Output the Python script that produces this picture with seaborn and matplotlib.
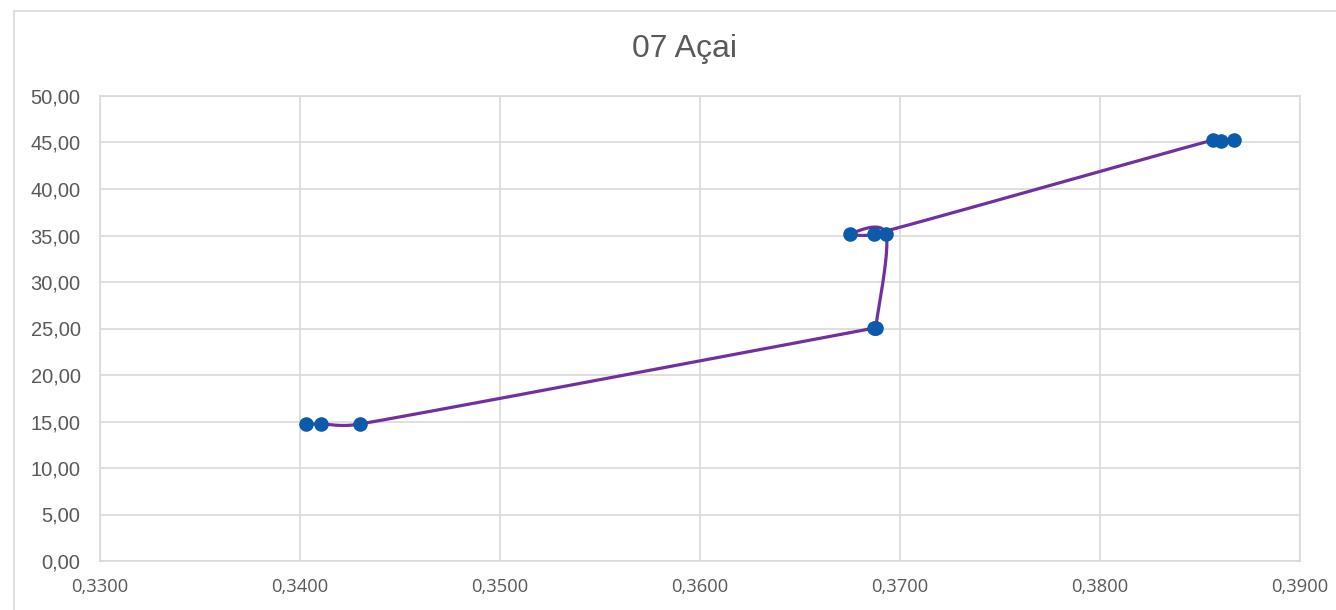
import numpy as np
import pandas as pd
import matplotlib
matplotlib.use("Agg")
import matplotlib.pyplot as plt
from matplotlib.patches import Rectangle
from matplotlib.ticker import FuncFormatter
import seaborn as sns

# Series in recording order (x: ratio, y: value)
x_vals = [0.3403, 0.34105, 0.3430,
          0.36870, 0.36875, 0.36878,
          0.3693, 0.3675, 0.3687,
          0.38565, 0.38605, 0.3867]
y_vals = [14.73, 14.73, 14.73,
          25.05, 25.03, 25.05,
          35.16, 35.16, 35.14,
          45.27, 45.16, 45.27]

title = "07 Açai"
x_ticks = [0.33, 0.34, 0.35, 0.36, 0.37, 0.38, 0.39]
y_ticks = [0, 5, 10, 15, 20, 25, 30, 35, 40, 45, 50]

LINE = "#7030A0"
MARK = "#0B5AAB"
GRID = "#D9D9D9"
TEXT = "#595959"


def smooth_curve(xs, ys, steps=40):
    """Cubic Bezier smoothing through every point (Catmull-Rom tangents),
    with handles capped relative to segment length so close points do not
    overshoot."""
    p = np.column_stack([xs, ys]).astype(float)
    n = len(p)
    out = [p[0]]
    t = np.linspace(0, 1, steps)[1:, None]

    def handle(v, seg_len):
        L = np.hypot(*v)
        if L == 0:
            return v * 0
        return v / L * min(L / 6.0, seg_len / 2.0)

    for i in range(n - 1):
        p0 = p[i - 1] if i > 0 else p[i]
        p1, p2 = p[i], p[i + 1]
        p3 = p[i + 2] if i + 2 < n else p[i + 1]
        seg_len = np.hypot(*(p2 - p1))
        c1 = p1 + handle(p2 - p0, seg_len)
        c2 = p2 - handle(p3 - p1, seg_len)
        seg = ((1 - t) ** 3) * p1 + 3 * ((1 - t) ** 2) * t * c1 \
            + 3 * (1 - t) * t ** 2 * c2 + t ** 3 * p2
        out.extend(seg)
    out = np.array(out)
    return out[:, 0], out[:, 1]


sns.set_theme(style="white")
plt.rcParams["font.family"] = ["Liberation Sans", "DejaVu Sans"]

fig = plt.figure(figsize=(13.36, 6.10), dpi=100)
ax = fig.add_axes([100 / 1336, 1 - 561 / 610, 1200 / 1336, 465 / 610])

# Outer chart border
fig.patches.append(Rectangle((13.5 / 1336, -0.1), 1.2, 1 - 11.5 / 610 + 0.1,
                             transform=fig.transFigure, fill=False,
                             edgecolor=GRID, linewidth=1.2))

# Smoothed connecting line, computed in screen-proportional space
xr = (x_ticks[0], x_ticks[-1])
yr = (y_ticks[0], y_ticks[-1])
nx = (np.array(x_vals) - xr[0]) / (xr[1] - xr[0]) * 1200
ny = (np.array(y_vals) - yr[0]) / (yr[1] - yr[0]) * 465
sx, sy = smooth_curve(nx, ny)
curve = pd.DataFrame({
    "x": xr[0] + sx / 1200 * (xr[1] - xr[0]),
    "y": yr[0] + sy / 465 * (yr[1] - yr[0]),
})
sns.lineplot(data=curve, x="x", y="y", sort=False, estimator=None,
             color=LINE, linewidth=2.3, ax=ax, zorder=3)

pts = pd.DataFrame({"x": x_vals, "y": y_vals})
sns.scatterplot(data=pts, x="x", y="y", color=MARK, s=110, linewidth=0,
                ax=ax, zorder=4)

ax.set_xlim(*xr)
ax.set_ylim(*yr)
ax.set_xticks(x_ticks)
ax.set_yticks(y_ticks)
ax.xaxis.set_major_formatter(FuncFormatter(lambda v, _: f"{v:.4f}".replace(".", ",")))
ax.yaxis.set_major_formatter(FuncFormatter(lambda v, _: f"{v:.2f}".replace(".", ",")))
ax.grid(True, color=GRID, linewidth=1.2)
ax.set_axisbelow(True)
for s in ax.spines.values():
    s.set_color(GRID)
    s.set_linewidth(1.2)
ax.set_xlabel("")
ax.set_ylabel("")
ax.tick_params(axis="both", length=0)
ax.tick_params(axis="y", pad=14, labelsize=14.5, labelcolor=TEXT)
ax.tick_params(axis="x", pad=12, labelsize=13.2, labelcolor=TEXT)
for lbl in ax.get_xticklabels():
    lbl.set_fontfamily(["Open Sans", "DejaVu Sans"])

fig.text(685 / 1336, 1 - 49 / 610, title, ha="center", va="center",
         fontsize=23, color=TEXT)

fig.savefig("out.png", dpi=100, facecolor="white")
